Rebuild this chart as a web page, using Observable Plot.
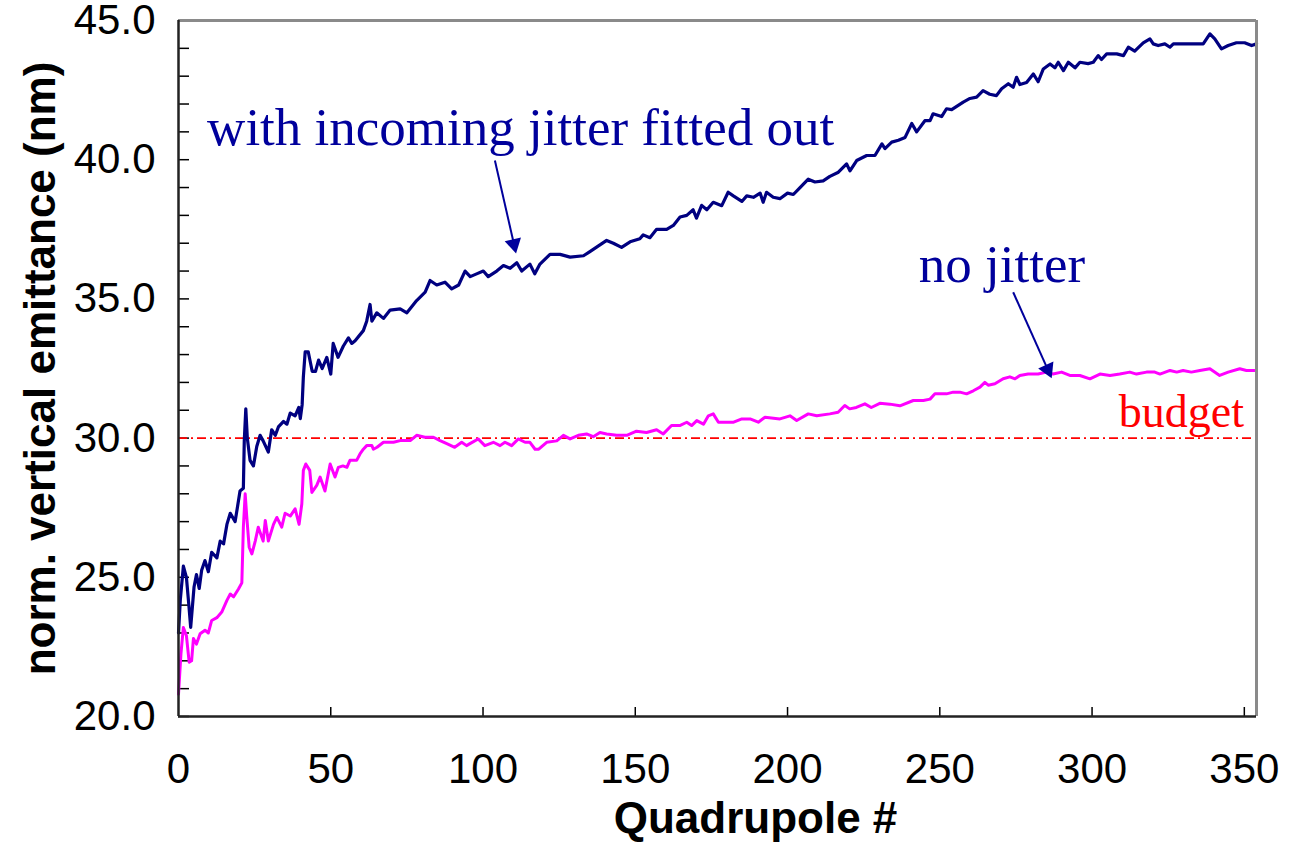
<!DOCTYPE html>
<html>
<head>
<meta charset="utf-8">
<script src="https://cdn.jsdelivr.net/npm/d3@7"></script>
<script src="https://cdn.jsdelivr.net/npm/@observablehq/plot@0.6"></script>
<style>
  html, body { margin: 0; padding: 0; background: white; }
  svg { overflow: visible; }
</style>
</head>
<body>
<div id="chart"></div>
<script>
// ---- Data (quadrupole #, normalized vertical emittance in nm) ----
const withJitter = [
  [0, 23.0], [0.6, 24.2], [1.6, 25.4], [2.6, 25.0], [3.4, 24.0], [4.0, 23.2], [5.1, 24.65], [5.9, 25.1],
  [6.8, 24.6], [7.6, 25.25], [8.7, 25.6], [9.8, 25.2], [10.9, 25.9], [12.6, 25.7], [13.7, 26.3], [14.8, 26.2],
  [15.9, 26.9], [17.0, 27.3], [18.6, 27.0], [20.2, 28.1], [21.3, 28.2], [21.6, 29.9], [22.1, 31.05], [22.6, 30.0],
  [23.5, 29.2], [24.6, 29.0], [25.7, 29.7], [26.8, 30.1], [27.8, 29.9], [29.5, 29.5], [30.6, 30.3], [31.8, 30.1],
  [32.8, 30.4], [34.5, 30.6], [35.6, 30.5], [36.7, 30.9], [38.3, 30.8], [39.5, 31.1], [40.0, 30.7], [40.6, 31.2],
  [41.0, 32.2], [41.6, 33.1], [42.6, 33.1], [43.9, 32.4], [45.0, 32.4], [46.0, 32.8], [47.2, 32.5], [48.7, 32.9],
  [50.0, 32.3], [50.8, 33.4], [52.4, 32.9], [54.1, 33.3], [55.8, 33.6], [56.9, 33.4], [58.0, 33.5], [60.7, 33.86],
  [61.8, 34.2], [62.9, 34.8], [63.5, 34.2], [65.1, 34.5], [67.3, 34.3], [69.5, 34.6], [72.8, 34.64], [75.0, 34.5],
  [78.2, 34.94], [81.0, 35.24], [82.6, 35.66], [84.8, 35.5], [87.5, 35.6], [89.7, 35.36], [92.0, 35.5], [94.1, 36.0],
  [95.8, 35.8], [97.9, 35.9], [100.1, 36.0], [101.7, 35.8], [104.5, 36.0], [106.7, 36.2], [108.9, 36.1], [111.1, 36.3],
  [112.7, 36.0], [115.4, 36.25], [117.0, 35.9], [118.7, 36.25], [122.0, 36.6], [125.3, 36.6], [128.6, 36.5], [133.0, 36.55],
  [135.1, 36.7], [137.3, 36.86], [140.6, 37.1], [142.8, 37.0], [145.5, 36.85], [148.3, 37.05], [151.5, 37.16], [152.6, 37.3],
  [154.8, 37.2], [157.0, 37.5], [160.3, 37.5], [162.5, 37.64], [164.7, 37.94], [166.9, 38.0], [169.0, 38.2], [170.1, 37.9],
  [171.8, 38.36], [173.5, 38.2], [175.6, 38.47], [178.4, 38.35], [180.5, 38.83], [182.2, 38.7], [185.0, 38.5], [186.6, 38.7],
  [188.8, 38.65], [191.0, 38.8], [192.0, 38.47], [193.1, 38.83], [195.3, 38.65], [197.5, 38.6], [200.0, 38.8], [201.9, 38.75],
  [204.1, 39.0], [206.8, 39.3], [209.0, 39.2], [211.7, 39.24], [213.9, 39.4], [216.7, 39.55], [219.4, 39.85], [220.5, 39.6],
  [222.7, 39.97], [226.0, 40.15], [228.7, 40.15], [231.0, 40.57], [232.0, 40.4], [234.2, 40.63], [236.4, 40.7], [238.6, 40.8],
  [240.8, 41.3], [242.4, 41.0], [245.1, 41.4], [246.8, 41.4], [247.8, 41.65], [250.6, 41.55], [252.2, 41.83], [253.9, 41.8],
  [257.7, 42.07], [259.9, 42.2], [262.1, 42.25], [264.2, 42.48], [266.4, 42.35], [268.6, 42.3], [270.3, 42.55], [272.5, 42.73],
  [274.1, 42.6], [275.2, 42.96], [276.3, 42.7], [278.5, 42.77], [280.7, 43.08], [282.3, 42.8], [284.0, 43.26], [286.2, 43.44],
  [287.8, 43.3], [288.9, 43.5], [290.6, 43.2], [292.2, 43.5], [294.4, 43.3], [296.0, 43.5], [298.7, 43.45], [300.4, 43.5],
  [302.0, 43.74], [303.1, 43.6], [304.8, 43.8], [308.1, 43.8], [310.3, 43.74], [311.9, 44.04], [314.0, 43.9], [316.8, 44.2],
  [319.0, 44.34], [320.1, 44.16], [321.7, 44.1], [323.9, 44.16], [325.6, 44.04], [326.7, 44.16], [329.4, 44.16], [333.2, 44.16],
  [336.5, 44.16], [337.6, 44.34], [338.7, 44.52], [340.3, 44.34], [342.5, 43.98], [344.7, 44.1], [347.4, 44.2], [350.1, 44.2],
  [352.4, 44.1], [354, 44.16]
];

const noJitter = [
  [0, 20.8], [0.8, 22.25], [1.6, 23.2], [2.6, 22.9], [3.5, 21.95], [4.3, 22.0], [4.9, 22.8], [5.9, 22.6],
  [7.1, 22.97], [8.7, 23.1], [9.8, 23.0], [10.9, 23.45], [12.6, 23.55], [14.2, 23.75], [15.9, 24.17], [17.0, 24.4],
  [18.1, 24.3], [19.7, 24.58], [20.8, 24.8], [21.3, 26.8], [21.9, 28.0], [22.4, 27.2], [23.2, 26.08], [24.1, 25.84],
  [25.2, 26.3], [26.2, 26.8], [27.8, 26.3], [28.5, 27.04], [29.5, 26.3], [31.2, 26.9], [32.3, 27.15], [33.9, 26.8],
  [35.0, 27.3], [36.7, 27.2], [38.3, 27.46], [39.6, 26.9], [40.5, 27.64], [41.0, 28.84], [41.8, 29.07], [43.1, 28.84],
  [43.8, 28.05], [45.4, 28.3], [46.5, 28.6], [48.1, 28.1], [49.8, 29.07], [51.4, 28.6], [52.5, 28.95], [54.0, 29.0],
  [55.3, 28.95], [56.3, 29.2], [58.5, 29.2], [59.6, 29.43], [60.7, 29.6], [61.8, 29.73], [63.5, 29.73], [64.0, 29.6],
  [65.2, 29.67], [67.3, 29.85], [70.6, 29.85], [72.8, 29.91], [76.1, 29.91], [78.2, 30.1], [80.9, 30.03], [83.7, 30.03],
  [85.9, 29.91], [88.1, 29.8], [90.7, 29.67], [93.0, 29.85], [94.6, 29.73], [95.7, 29.8], [98.4, 29.97], [100.6, 29.73],
  [103.4, 29.85], [105.6, 29.73], [107.2, 29.85], [109.4, 29.73], [111.6, 29.97], [113.8, 29.85], [115.4, 29.85], [117.1, 29.6],
  [118.3, 29.6], [120.9, 29.85], [124.2, 29.9], [126.4, 30.1], [128.6, 29.97], [131.3, 30.1], [134.0, 30.15], [136.2, 30.05],
  [138.4, 30.2], [140.6, 30.15], [143.9, 30.1], [147.2, 30.1], [150.4, 30.25], [153.7, 30.2], [157.0, 30.3], [159.2, 30.15],
  [161.9, 30.45], [164.6, 30.45], [166.9, 30.57], [168.5, 30.45], [170.2, 30.63], [172.4, 30.5], [174.0, 30.8], [175.6, 30.87],
  [177.3, 30.57], [180.0, 30.57], [182.3, 30.57], [185.0, 30.69], [187.7, 30.69], [190.4, 30.57], [192.6, 30.75], [197.5, 30.69],
  [200.8, 30.8], [203.0, 30.63], [206.8, 30.87], [209.6, 30.8], [213.9, 30.87], [216.6, 30.93], [218.8, 31.17], [220.4, 31.05],
  [222.6, 31.1], [225.4, 31.23], [227.5, 31.1], [230.3, 31.25], [233.6, 31.22], [236.9, 31.16], [241.3, 31.35], [244.6, 31.35],
  [246.8, 31.4], [248.4, 31.59], [252.2, 31.59], [254.4, 31.65], [256.6, 31.65], [258.8, 31.59], [261.0, 31.7], [263.2, 31.83],
  [264.8, 32.0], [265.9, 31.9], [268.1, 31.95], [270.8, 32.13], [273.0, 32.2], [274.7, 32.13], [276.3, 32.25], [279.0, 32.3],
  [282.3, 32.3], [285.0, 32.37], [287.2, 32.3], [290.0, 32.37], [292.7, 32.25], [296.0, 32.25], [299.3, 32.13], [302.6, 32.3],
  [305.9, 32.25], [309.1, 32.3], [312.4, 32.37], [314.6, 32.3], [317.9, 32.37], [320.6, 32.37], [322.3, 32.3], [325.6, 32.43],
  [327.8, 32.37], [329.9, 32.43], [332.6, 32.37], [335.4, 32.43], [338.7, 32.49], [341.9, 32.25], [344.7, 32.37], [348.5, 32.49],
  [350.7, 32.43], [354, 32.43]
];

const budget = 30.0;
const xDomain = [0, 354];
const yDomain = [20, 45];
const xTicks = [0, 50, 100, 150, 200, 250, 300, 350];
const yTicks = [20, 25, 30, 35, 40, 45];
const yMinorTicks = d3.range(20, 46, 1);

const xTitle = "Quadrupole #";
const yTitle = "norm. vertical emittance (nm)";

// annotation labels: text and anchor (quadrupole #, emittance)
const labelTexts = ["with incoming jitter fitted out", "no jitter", "budget"];
const labelAt = [[9.4, 41.12], [243.1, 36.22], [308.8, 30.91]];
// arrows: from (q, emittance) to (q, emittance)
const arrowFrom = [[103.9, 39.97], [274.1, 35.24]];
const arrowTo = [[110.5, 36.8], [286.1, 32.31]];

// ---- Layout ----
const W = 1295, H = 842;
const mL = 178, mR = 39, mT = 20, mB = 126;
const plotW = W - mL - mR, plotH = H - mT - mB;
const kx = plotW / (xDomain[1] - xDomain[0]);
const ky = plotH / (yDomain[1] - yDomain[0]);

const navy = "#000080";
const annBlue = "#00009c";
const magenta = "#ff00ff";
const red = "#ff0000";

const blueData = withJitter.map(([q, v]) => ({q, v}));
const pinkData = noJitter.map(([q, v]) => ({q, v}));

const labels = labelTexts.map((t, i) => ({text: t, q: labelAt[i][0], v: labelAt[i][1]}));
const arrows = arrowFrom.map((f, i) => {
  const [x1, y1] = f, [x2, y2] = arrowTo[i];
  const dxp = (x2 - x1) * kx, dyp = -(y2 - y1) * ky;
  const ang = Math.atan2(dxp, -dyp) * 180 / Math.PI;
  return {x1, y1, x2, y2, ang};
});
const triR = 6.2;
const triC = 2 * Math.sqrt((triR * triR * Math.PI) / (Math.sqrt(3) * 3)); // centroid to tip

const serif = "'Liberation Serif', 'Times New Roman', serif";

const chart = Plot.plot({
  width: W, height: H,
  marginLeft: mL, marginRight: mR, marginTop: mT, marginBottom: mB,
  style: {fontFamily: "'Liberation Sans', Arial, sans-serif", fontSize: "42px", background: "white", color: "black", overflow: "visible"},
  x: {domain: xDomain, ticks: xTicks, tickSize: 0, tickPadding: 37, label: null},
  y: {domain: yDomain, ticks: yTicks, tickSize: 0, tickPadding: 23, tickFormat: d => d.toFixed(1), label: null},
  marks: [
    // ticks pointing inward
    Plot.tickY(yMinorTicks, {y: d => d, insetRight: plotW - 11, stroke: "black", strokeWidth: 1.5}),
    Plot.tickX(xTicks.filter(d => d > 0), {x: d => d, insetTop: plotH - 9, stroke: "black", strokeWidth: 1.5}),
    // budget line
    Plot.ruleY([budget], {stroke: red, strokeWidth: 1.6, strokeDasharray: "9,4,2,4"}),
    // data lines
    Plot.line(pinkData, {x: "q", y: "v", stroke: magenta, strokeWidth: 3, strokeLinejoin: "round"}),
    Plot.line(blueData, {x: "q", y: "v", stroke: navy, strokeWidth: 3.2, strokeLinejoin: "round"}),
    // frame
    Plot.ruleY([yDomain[1]], {stroke: "#8a8a8a", strokeWidth: 3}),
    Plot.ruleX([xDomain[1]], {stroke: "#8a8a8a", strokeWidth: 3}),
    Plot.ruleX([xDomain[0]], {stroke: "#222", strokeWidth: 2.5}),
    Plot.ruleY([yDomain[0]], {stroke: "#222", strokeWidth: 2.5}),
    // annotations
    Plot.text(labels.slice(0, 2), {x: "q", y: "v", text: "text", textAnchor: "start", lineAnchor: "middle",
      fill: annBlue, fontSize: 53, fontFamily: serif}),
    Plot.text(labels.slice(2), {x: "q", y: "v", text: "text", textAnchor: "start", lineAnchor: "middle",
      fill: red, fontSize: 46, fontFamily: serif}),
    Plot.link(arrows, {x1: "x1", y1: "y1", x2: "x2", y2: "y2", stroke: annBlue, strokeWidth: 2}),
    Plot.dot(arrows, {x: "x2", y: "y2", symbol: "triangle", r: triR, rotate: "ang", fill: annBlue, stroke: "none"}),
    // axis titles
    Plot.text([yTitle], {frameAnchor: "left", dx: -138, rotate: -90, text: d => d, fontSize: 44, fontWeight: "bold",
      textAnchor: "middle", lineAnchor: "middle"}),
    Plot.text([xTitle], {frameAnchor: "bottom", dx: 38, dy: 102, text: d => d, fontSize: 44, fontWeight: "bold",
      textAnchor: "middle", lineAnchor: "middle"})
  ]
});

// shift arrowheads so the tip of each triangle sits at the arrow end
d3.select(chart).selectAll("g[aria-label='dot'] path").each(function(d, i) {
  const a = arrows[i];
  if (!a) return;
  const t = this.getAttribute("transform") || "";
  const rad = a.ang * Math.PI / 180;
  const ox = -triC / 2 * Math.sin(rad), oy = triC / 2 * Math.cos(rad);
  this.setAttribute("transform", `translate(${ox},${oy}) ` + t);
});

document.getElementById("chart").appendChild(chart);
</script>
</body>
</html>
